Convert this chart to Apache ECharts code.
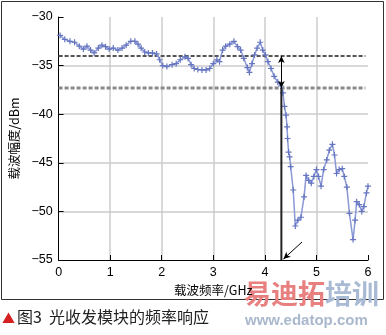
<!DOCTYPE html>
<html><head><meta charset="utf-8">
<script src="https://cdn.jsdelivr.net/npm/echarts@6/dist/echarts.min.js"></script>
<style>html,body{margin:0;padding:0;background:#fff}#c{width:386px;height:335px}</style>
</head><body><div id="c"></div>
<script>
const freq = [0.03,0.12,0.22,0.31,0.40,0.48,0.55,0.62,0.69,0.77,0.84,0.91,0.98,1.06,1.15,1.23,1.31,1.40,1.48,1.54,1.60,1.67,1.74,1.82,1.90,1.96,2.02,2.10,2.20,2.28,2.36,2.45,2.51,2.57,2.63,2.70,2.78,2.86,2.93,3.00,3.07,3.12,3.18,3.24,3.32,3.40,3.47,3.53,3.59,3.66,3.70,3.75,3.80,3.85,3.91,3.96,4.01,4.06,4.12,4.18,4.25,4.31,4.35,4.38,4.41,4.43,4.44,4.46,4.48,4.50,4.55,4.59,4.64,4.70,4.76,4.80,4.85,4.90,4.95,5.00,5.04,5.09,5.14,5.20,5.25,5.31,5.35,5.39,5.44,5.50,5.54,5.59,5.64,5.71,5.75,5.78,5.83,5.88,5.92,5.97,6.00];
const amp = [-31.9,-32.3,-32.5,-32.6,-33.0,-33.3,-33.0,-33.4,-33.7,-33.2,-32.9,-33.05,-33.3,-33.2,-33.4,-33.2,-32.9,-32.5,-32.5,-32.8,-33.2,-33.6,-33.7,-33.7,-33.8,-34.4,-35.0,-35.1,-34.9,-34.8,-34.4,-34.1,-34.25,-34.9,-35.3,-35.4,-35.45,-35.45,-35.3,-34.8,-34.4,-34.6,-33.4,-33.0,-32.8,-32.5,-33.05,-33.4,-34.25,-35.2,-35.7,-34.8,-33.9,-33.2,-32.6,-33.4,-33.9,-34.6,-35.3,-36.1,-36.7,-37.1,-37.8,-39.2,-40.1,-41.3,-42.5,-43.9,-44.4,-45.4,-47.8,-51.5,-50.9,-50.6,-48.5,-46.3,-46.8,-47.1,-46.4,-45.7,-46.4,-47.4,-45.7,-44.7,-43.7,-43.1,-44.2,-46.1,-45.7,-45.6,-46.4,-47.5,-50.2,-52.9,-50.9,-49.0,-49.3,-50.0,-49.5,-48.1,-47.4];
const refLevel = -34;
const cutLevel = -37.3;
const cutFreq = 4.32;
const xRange = [0, 6];
const yRange = [-55, -30];
const lineEnd = 5.95;
const arrowFrom = [4.72, -53.15];
const arrowTo = [4.36, -54.9];
const labelPos = [4.37, -35.65];

const chart = echarts.init(document.getElementById('c'));
const cn = '"Noto Sans CJK SC", sans-serif';
const lat = '"Liberation Sans", Arial, sans-serif';
const axisCommon = {
  axisLine: {show: true, lineStyle: {color: '#000', width: 1}},
  axisTick: {show: true, inside: true, length: 5, lineStyle: {color: '#000'}},
  splitLine: {show: true, showMinLine: false, showMaxLine: false, lineStyle: {color: '#cdcdcd', width: 1.5}},
  axisLabel: {color: '#000', fontSize: 12.5, fontFamily: lat, formatter: v => String(v).replace('-', '\u2212')},
  nameTextStyle: {color: '#000', fontSize: 12.5, fontFamily: cn}
};
chart.setOption({
  animation: false,
  grid: {left: 53, right: 18, top: 17, bottom: 75},
  xAxis: Object.assign({}, axisCommon, {
    type: 'value', min: xRange[0], max: xRange[1], interval: 1,
    name: '载波频率/GHz', nameLocation: 'middle', nameGap: 22,
    axisLabel: Object.assign({}, axisCommon.axisLabel, {margin: 6})
  }),
  yAxis: Object.assign({}, axisCommon, {
    type: 'value', min: yRange[0], max: yRange[1], interval: 5,
    name: '载波幅度/dBm', nameLocation: 'middle', nameGap: 35,
    axisLabel: Object.assign({}, axisCommon.axisLabel, {margin: 6})
  }),
  series: [
    {type: 'line', data: [[0, refLevel], [lineEnd, refLevel]], symbol: 'none', silent: true,
     lineStyle: {color: '#555', width: 2, type: [4, 2]}, z: 1},
    {type: 'line', data: [[0, cutLevel], [lineEnd, cutLevel]], symbol: 'none', silent: true,
     lineStyle: {color: '#8a8a8a', width: 3, type: [4, 2]}, z: 1},
    {type: 'line', data: freq.map((f, i) => [f, amp[i]]),
     symbol: 'path://M4,0h2v4h4v2h-4v4h-2v-4h-4v-2h4z', symbolSize: 6,
     itemStyle: {color: '#6575c0'}, lineStyle: {color: '#8a98d6', width: 1.5}, z: 3},
    {type: 'line', data: [[cutFreq, cutLevel], [cutFreq, yRange[0]]], symbol: 'none',
     lineStyle: {color: '#222', width: 2}, z: 4,
     markLine: {silent: true, symbolSize: [5, 7],
       lineStyle: {color: '#000', width: 1, type: 'solid'}, label: {show: false},
       data: [
         [{coord: [cutFreq, refLevel], symbol: 'arrow'}, {coord: [cutFreq, cutLevel], symbol: 'arrow'}],
         [{coord: arrowFrom, symbol: 'none'}, {coord: arrowTo, symbol: 'arrow'}]
       ]}},
    {type: 'scatter', data: [labelPos], symbol: 'none', silent: true,
     label: {show: true, position: 'right', distance: 0, formatter: '3 dB', color: '#000', fontSize: 12, fontFamily: lat}}
  ],
  graphic: [
    {type: 'rect', shape: {x: 1.5, y: 1.5, width: 382, height: 298}, style: {fill: 'none', stroke: '#333', lineWidth: 1}, z: -1},
    {type: 'text', left: 2, top: 312, style: {text: '▲', fill: '#d42020', font: '13px ' + cn}},
    {type: 'text', left: 17, top: 309, style: {text: '图3  光收发模块的频率响应', fill: '#222', font: '16px ' + cn}},
    {type: 'text', left: 244, top: 280, style: {text: '易迪拓', fill: '#e88080', font: 'bold 27px ' + cn}},
    {type: 'text', left: 325, top: 280, style: {text: '培训', fill: '#a9bad4', font: 'bold 27px ' + cn}},
    {type: 'text', left: 245, top: 313, style: {text: 'www.edatop.com', fill: '#a9b8cc', font: 'bold 15px ' + lat}}
  ]
});
</script></body></html>
